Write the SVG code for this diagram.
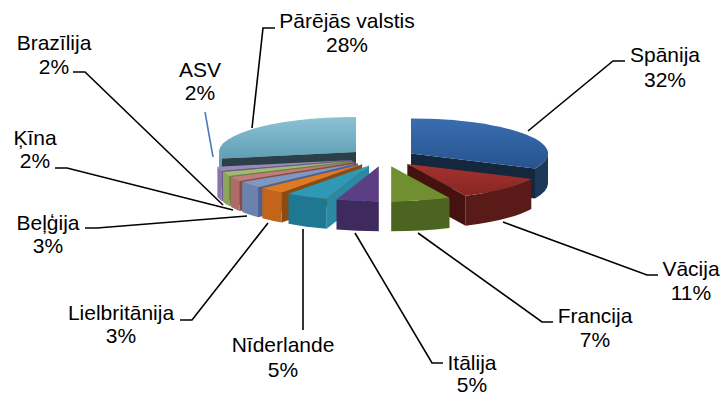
<svg xmlns="http://www.w3.org/2000/svg" width="727" height="398" viewBox="0 0 727 398">
<style>
text{font-family:"Liberation Sans",Arial,sans-serif;font-size:21px;fill:#000;text-anchor:middle}
.ld{fill:none;stroke:#000;stroke-width:1.6}
.ldb{fill:none;stroke:#4a7ebb;stroke-width:1.6}
</style>
<defs>
<linearGradient id="gP" x1="0" y1="0" x2="0" y2="1"><stop offset="0" stop-color="#8cc2d4"/><stop offset="1" stop-color="#5f9fb6"/></linearGradient>
<linearGradient id="gS" x1="0" y1="0" x2="0" y2="1"><stop offset="0" stop-color="#3a6db0"/><stop offset="1" stop-color="#27548e"/></linearGradient>
<linearGradient id="gV" x1="0" y1="0" x2="0" y2="1"><stop offset="0" stop-color="#a5332f"/><stop offset="1" stop-color="#862622"/></linearGradient>
</defs>
<g id="slice-parejas">
<path d="M356,152 L221.4,158.6 A137,35 0 0 1 356,117 Z" fill="url(#gP)"/>
<path d="M356,152 L221.4,158.6 L221.4,188.6 L356,182 Z" fill="#2a3f47"/>
<path d="M221.4,158.6 A137,35 0 0 1 219,152 L219,182 A137,35 0 0 0 221.4,188.6 Z" fill="#5f9fb6"/>
<text x="347" y="28">Pārējās valstis</text><text x="347" y="52">28%</text>
</g>
<g id="slice-spanija">
<path d="M548,153.5 A137,35 0 0 1 535,168.4 L535,198.4 A137,35 0 0 0 548,183.5 Z" fill="#1e3858"/>
<path d="M411,153.5 L535,168.4 L535,198.4 L411,183.5 Z" fill="#15263f"/>
<path d="M411,153.5 L411,118.5 A137,35 0 0 1 535,168.4 Z" fill="url(#gS)"/>
<text x="665" y="62">Spānija</text><text x="665" y="87">32%</text>
</g>
<g id="slice-asv">
<path d="M352,160.1 L221.7,170.9 L221.7,200.9 L352,190.1 Z" fill="#6a5a88"/>
<path d="M221.7,170.9 A137,35 0 0 1 217.4,166.7 L217.4,196.7 A137,35 0 0 0 221.7,200.9 Z" fill="#8874a8"/>
<path d="M352,160.1 L221.7,170.9 A137,35 0 0 1 217.4,166.7 Z" fill="#9a88b8"/>
<text x="200" y="77">ASV</text><text x="200" y="100">2%</text>
</g>
<g id="slice-brazilija">
<path d="M353.3,161.1 L229.3,176 L229.3,206 L353.3,191.1 Z" fill="#6c8042"/>
<path d="M229.3,176 A137,35 0 0 1 223,171.9 L223,201.9 A137,35 0 0 0 229.3,206 Z" fill="#8ea45c"/>
<path d="M353.3,161.1 L229.3,176 A137,35 0 0 1 223,171.9 Z" fill="#a2ba70"/>
<text x="54" y="50">Brazīlija</text><text x="54" y="74">2%</text>
</g>
<g id="slice-kina">
<path d="M355.1,162.1 L239.4,180.9 L239.4,210.9 L355.1,192.1 Z" fill="#8a4a48"/>
<path d="M239.4,180.9 A137,35 0 0 1 231.1,177 L231.1,207 A137,35 0 0 0 239.4,210.9 Z" fill="#b06a68"/>
<path d="M355.1,162.1 L239.4,180.9 A137,35 0 0 1 231.1,177 Z" fill="#c27c7a"/>
<text x="35" y="145">Ķīna</text><text x="35" y="168">2%</text>
</g>
<g id="slice-belgija">
<path d="M357.9,163.2 L258,187.2 L258,217.2 L357.9,193.2 Z" fill="#4d6290"/>
<path d="M258,187.2 A137,35 0 0 1 242.2,182 L242.2,212 A137,35 0 0 0 258,217.2 Z" fill="#6a82ad"/>
<path d="M357.9,163.2 L258,187.2 A137,35 0 0 1 242.2,182 Z" fill="#7f98c2"/>
<text x="48" y="230">Beļģija</text><text x="48" y="253">3%</text>
</g>
<g id="slice-vacija">
<path d="M531.3,178.9 A137,35 0 0 1 465.6,195.7 L465.6,225.7 A137,35 0 0 0 531.3,208.9 Z" fill="#5a1a17"/>
<path d="M407.3,164 L465.6,195.7 L465.6,225.7 L407.3,194 Z" fill="#461210"/>
<path d="M407.3,164 L531.3,178.9 A137,35 0 0 1 465.6,195.7 Z" fill="url(#gV)"/>
<text x="691" y="276">Vācija</text><text x="691" y="300">11%</text>
</g>
<g id="slice-lielbritanija">
<path d="M362.2,164.3 L281.7,192.6 L281.7,222.6 L362.2,194.3 Z" fill="#8b4a12"/>
<path d="M281.7,192.6 A137,35 0 0 1 262.3,188.3 L262.3,218.3 A137,35 0 0 0 281.7,222.6 Z" fill="#c2651a"/>
<path d="M362.2,164.3 L281.7,192.6 A137,35 0 0 1 262.3,188.3 Z" fill="#e07a22"/>
<text x="121" y="320">Lielbritānija</text><text x="121" y="343">3%</text>
</g>
<g id="slice-niderlande">
<path d="M369,165.5 L326.7,198.8 L326.7,228.8 L369,195.5 Z" fill="#2a8aa3"/>
<path d="M326.7,198.8 A137,35 0 0 1 288.5,193.8 L288.5,223.8 A137,35 0 0 0 326.7,228.8 Z" fill="#1f7891"/>
<path d="M369,165.5 L326.7,198.8 A137,35 0 0 1 288.5,193.8 Z" fill="#2f98b4"/>
<text x="283" y="352">Nīderlande</text><text x="283" y="377">5%</text>
</g>
<g id="slice-francija">
<path d="M449.5,197.9 A137,35 0 0 1 391.2,201.2 L391.2,231.2 A137,35 0 0 0 449.5,227.9 Z" fill="#4b6521"/>
<path d="M391.2,166.2 L449.5,197.9 A137,35 0 0 1 391.2,201.2 Z" fill="#6f8f30"/>
<text x="595" y="323">Francija</text><text x="595" y="347">7%</text>
</g>
<g id="slice-italija">
<path d="M378.8,201.3 A137,35 0 0 1 336.5,199.6 L336.5,229.6 A137,35 0 0 0 378.8,231.3 Z" fill="#3f2a5e"/>
<path d="M378.8,166.3 L378.8,201.3 A137,35 0 0 1 336.5,199.6 Z" fill="#5c3e85"/>
<text x="472" y="370">Itālija</text><text x="472" y="392">5%</text>
</g>
<g id="connectors">
<polyline class="ld" points="625,61 613,61 528,131"/>
<polyline class="ld" points="275,28 263,28 252,128"/>
<polyline class="ldb" points="205,112 213,157"/>
<polyline class="ld" points="73,72 85,72 223,205"/>
<polyline class="ld" points="55,168 67,168 233,210"/>
<polyline class="ld" points="85,228 97,228 247,216"/>
<polyline class="ld" points="180,320 192,320 268,223"/>
<polyline class="ld" points="303,330 303,229"/>
<polyline class="ld" points="443,363 432,363 355,233"/>
<polyline class="ld" points="553,322 542,322 418,233"/>
<polyline class="ld" points="658,275 647,275 503,222"/>
</g>
</svg>
